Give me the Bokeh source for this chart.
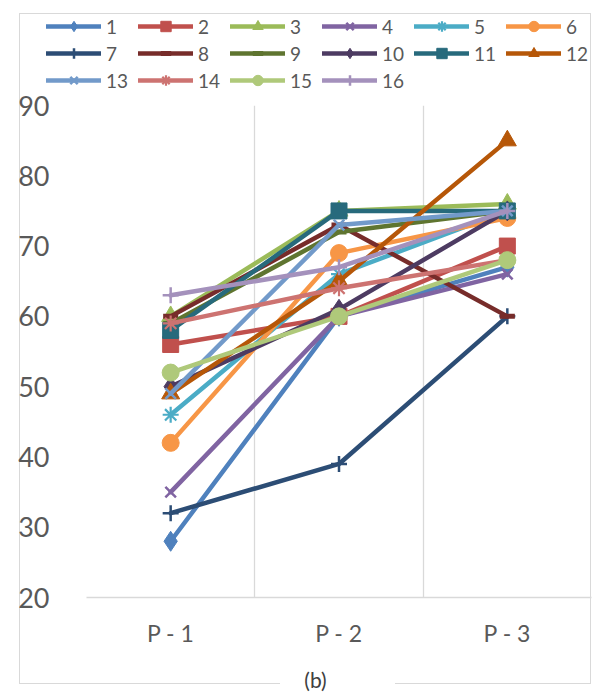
from bokeh.plotting import figure
from bokeh.models import Range1d, FixedTicker, Label
from bokeh.layouts import column
from bokeh.embed import file_html
from bokeh.resources import INLINE

# ---- data ----
categories = ["P - 1", "P - 2", "P - 3"]
series_names = ["1", "2", "3", "4", "5", "6", "7", "8",
                "9", "10", "11", "12", "13", "14", "15", "16"]
s1 = [28, 60, 67]
s2 = [56, 60, 70]
s3 = [60, 75, 76]
s4 = [35, 60, 66]
s5 = [46, 66, 75]
s6 = [42, 69, 74]
s7 = [32, 39, 60]
s8 = [60, 73, 60]
s9 = [59, 72, 75]
s10 = [50, 61, 75]
s11 = [58, 75, 75]
s12 = [49, 65, 85]
s13 = [49, 73, 75]
s14 = [59, 64, 68]
s15 = [52, 60, 68]
s16 = [63, 67, 75]
series_values = [s1, s2, s3, s4, s5, s6, s7, s8, s9, s10, s11, s12, s13, s14, s15, s16]
y_ticks = [20, 30, 40, 50, 60, 70, 80, 90]
caption = "(b)"

# ---- styles ----
colors = ["#4F81BD", "#C0504D", "#9BBB59", "#8064A2", "#4BACC6", "#F79646",
          "#2C4D75", "#772C2A", "#5F7530", "#4D3B62", "#276A7C", "#B65708",
          "#729ACA", "#CD7371", "#AFC97A", "#A491BC"]
markers = ["diamond", "square", "triangle", "x", "asterisk", "circle",
           "cross", "dash", "dash", "diamond", "square", "triangle",
           "x", "asterisk", "circle", "cross"]
sizes = {"diamond": 20, "square": 16, "triangle": 18, "x": 15, "asterisk": 16,
         "circle": 17, "cross": 16, "dash": 15}
mlw = {"diamond": 1, "square": 1, "triangle": 1, "x": 2.5, "asterisk": 2.2,
       "circle": 1, "cross": 2.5, "dash": 5}

xs = [i + 1 for i in range(len(categories))]
GRID = "#d9d9d9"
TXT = "#595959"

g = f"linear-gradient({GRID},{GRID})"
border_css = {
    "background-image": ", ".join([g] * 5),
    "background-position": "19px 13px, 19px 13px, 590px 13px, 19px 683px, 395px 683px",
    "background-size": "572px 1px, 1px 671px, 1px 671px, 261px 1px, 196px 1px",
    "background-repeat": "no-repeat",
}


def draw_series(fig):
    for name, vals, c, m in zip(series_names, series_values, colors, markers):
        fig.line(xs, vals, line_color=c, line_width=4.5, line_cap="round",
                 line_join="round", legend_label=name)
        fig.scatter(xs, vals, marker=m, size=sizes[m], fill_color=c,
                    line_color=c, line_width=mlw[m], legend_label=name)


def strip(height, xr, yr):
    f = figure(width=592, height=height, output_backend="svg",
               toolbar_location=None, x_range=xr, y_range=yr,
               x_axis_type=None, y_axis_type=None, min_border_left=0,
               min_border_right=0, min_border_top=0, min_border_bottom=0)
    f.frame_align = False
    f.outline_line_color = None
    f.background_fill_alpha = 0
    f.border_fill_alpha = 0
    f.grid.visible = False
    return f


# ---- legend strip (its frame is the whole strip, data lies out of view) ----
pl = strip(93, Range1d(100, 101), Range1d(100, 101))
draw_series(pl)
lg = pl.legend[0]
lg.orientation = "horizontal"
lg.ncols = 6
lg.location = (46, 0)
lg.padding = 0
lg.margin = 0
lg.spacing = 1
lg.glyph_width = 55
lg.glyph_height = 26
lg.label_standoff = 5
lg.label_width = 31
lg.label_height = 26
lg.label_text_font = "Lato"
lg.label_text_font_size = "19px"
lg.label_text_color = TXT
lg.border_line_color = None
lg.background_fill_alpha = 0

# ---- main chart (overlaps the transparent legend strip by 8px) ----
p = figure(width=592, height=581, output_backend="svg", toolbar_location=None,
           x_range=Range1d(0.5, 3.5), y_range=Range1d(y_ticks[0], y_ticks[-1]),
           min_border_left=86, min_border_right=1, min_border_top=20,
           min_border_bottom=69, styles={"margin-top": "-8px"})
p.frame_align = False
p.outline_line_color = None
p.background_fill_alpha = 0
p.border_fill_alpha = 0
draw_series(p)
p.legend.visible = False

p.ygrid.visible = False
p.xgrid.ticker = FixedTicker(ticks=[0.5, 1.5, 2.5, 3.5])
p.xgrid.grid_line_color = GRID
p.xgrid.grid_line_width = 1.3

p.xaxis.ticker = FixedTicker(ticks=xs)
p.xaxis.major_label_overrides = {x: c for x, c in zip(xs, categories)}
p.xaxis.axis_line_color = GRID
p.xaxis.axis_line_width = 1.3
p.xaxis.major_tick_line_color = None
p.xaxis.minor_tick_line_color = None
p.xaxis.major_label_text_font = "Lato"
p.xaxis.major_label_text_font_size = "23px"
p.xaxis.major_label_text_color = TXT
p.xaxis.major_label_standoff = 15

p.yaxis.ticker = FixedTicker(ticks=y_ticks)
p.yaxis.axis_line_color = None
p.yaxis.major_tick_line_color = None
p.yaxis.minor_tick_line_color = None
p.yaxis.major_label_text_font = "Lato"
p.yaxis.major_label_text_font_size = "27px"
p.yaxis.major_label_text_color = TXT
p.yaxis.major_label_standoff = 31

# ---- caption strip ----
pc = strip(26, Range1d(0, 592), Range1d(0, 26))
pc.add_layout(Label(x=315, y=13, text=caption, text_align="center",
                    text_baseline="middle", text_font="Lato",
                    text_font_size="21px", text_color="#404040"))

layout = column(pl, p, pc, spacing=0, styles=border_css)
open("out.html", "w").write(file_html(layout, INLINE))
